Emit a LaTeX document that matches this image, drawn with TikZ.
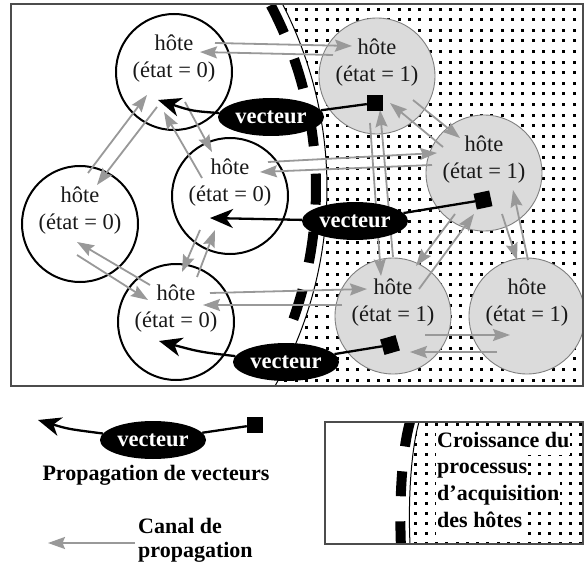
\documentclass[tikz,border=0pt]{standalone}
\usepackage{fontspec}
\setmainfont{Liberation Serif}
\usetikzlibrary{arrows.meta,shapes.geometric}
\begin{document}
\begin{tikzpicture}[x=1pt,y=-1pt,
  host0/.style={circle, draw=black, line width=2pt, fill=white, minimum size=116pt, inner sep=0pt},
  host1/.style={circle, draw=black!50, line width=0.9pt, fill=gray!28, minimum size=116pt, inner sep=0pt},
  htext/.style={font=\fontsize{22.5}{27}\selectfont, align=center, inner sep=0pt, text=black!90},
  vect/.style={ellipse, fill=black, text=white, font=\fontsize{22.5}{26}\selectfont\bfseries, minimum width=106pt, minimum height=38pt, inner sep=0pt},
  sq/.style={rectangle, fill=black, minimum size=16pt, inner sep=0pt},
  vline/.style={line width=2.3pt, black},
  varrow/.style={vline, -{Stealth[length=23pt,width=19pt,inset=7pt]}},
  canal/.style={line width=1.8pt, draw=gray!80, -{Stealth[length=17pt,width=12pt,inset=2.5pt]}},
  legtext/.style={font=\fontsize{22}{26}\selectfont\bfseries, inner sep=0pt},
  boxtext/.style={font=\fontsize{22}{26}\selectfont\bfseries, fill=white, inner xsep=1pt, inner ysep=0pt, text height=19pt, text depth=7.7pt, anchor=base west},
  framestyle/.style={draw=black!70, line width=1.3pt},
  dotsq/.style={fill=black}
]
\useasboundingbox (0,0) rectangle (584,567);
\fill[white] (0,0) rectangle (584,567);

% ---------- main panel ----------
\begin{scope}
\clip (11,4) rectangle (583,386);
% dotted region
\begin{scope}
\clip plot[domain=-30:32,samples=80] ({-76+403*cos(\x)},{188+403*sin(\x)}) -- (600,400) -- (600,-10) -- cycle;
\foreach \i [evaluate=\i as \xx using {round(274+\i*10.3)}] in {0,...,31} {
  \foreach \j [evaluate=\j as \yy using {round(-3+\j*10.6)}] in {0,...,36} {
    \fill[dotsq] (\xx,\yy) rectangle ++(3,3);
  }
}
\end{scope}
% growth front
\draw[line width=1pt] plot[domain=-30:32,samples=80] ({-76+403*cos(\x)},{188+403*sin(\x)});
\draw[line width=10pt, dash pattern=on 31pt off 27.6pt] plot[domain=-27.8:31,samples=90] ({-76+392*cos(\x)},{188+392*sin(\x)});

% hosts
\node[host0] (h1) at (174,72) {};
\node[host0] (h2) at (230,196) {};
\node[host0] (h3) at (80,224) {};
\node[host0] (h4) at (176,322) {};
\node[host1] (g1) at (377,76) {};
\node[host1] (g2) at (484,173) {};
\node[host1] (g3) at (393,316) {};
\node[host1] (g4) at (527,316) {};

\node[htext] (h1t) at (174,58.6) {hôte\\(état = 0)};
\node[htext] (h2t) at (230,182.6) {hôte\\(état = 0)};
\node[htext] (h3t) at (80,210.6) {hôte\\(état = 0)};
\node[htext] (h4t) at (176,308.6) {hôte\\(état = 0)};
\node[htext] (g1t) at (377,62.6) {hôte\\(état = 1)};
\node[htext] (g2t) at (484,159.6) {hôte\\(état = 1)};
\node[htext] (g3t) at (393,302.6) {hôte\\(état = 1)};
\node[htext] (g4t) at (527,302.6) {hôte\\(état = 1)};

% propagation channels
\coordinate (a1) at (215,43);  \coordinate (b1) at (352,46);
\coordinate (a2) at (333,55);  \coordinate (b2) at (200,52);
\coordinate (a3) at (88,173);  \coordinate (b3) at (147,95);
\coordinate (a4) at (157,107); \coordinate (b4) at (97,185);
\coordinate (a5) at (185,102); \coordinate (b5) at (212,152);
\coordinate (a6) at (202,178); \coordinate (b6) at (164,112);
\coordinate (a7) at (200,230); \coordinate (b7) at (182,272);
\coordinate (a8) at (197,277); \coordinate (b8) at (215,230);
\coordinate (a9) at (150,285); \coordinate (b9) at (77,242);
\coordinate (a10) at (77,255); \coordinate (b10) at (148,300);
\coordinate (a11) at (268,162); \coordinate (b11) at (437,153);
\coordinate (a12) at (432,165); \coordinate (b12) at (260,172);
\coordinate (a13) at (413,100); \coordinate (b13) at (460,138);
\coordinate (a14) at (443,147); \coordinate (b14) at (390,103);
\coordinate (a15) at (370,123); \coordinate (b15) at (381,276);
\coordinate (a16) at (393,257); \coordinate (b16) at (380,110);
\coordinate (a17) at (455,214); \coordinate (b17) at (416,266);
\coordinate (a18) at (419,289); \coordinate (b18) at (474,214);
\coordinate (a19) at (502,214); \coordinate (b19) at (517,260);
\coordinate (a20) at (528,260); \coordinate (b20) at (513,190);
\coordinate (a21) at (425,335); \coordinate (b21) at (510,335);
\coordinate (a22) at (497,352); \coordinate (b22) at (410,352);
\coordinate (a23) at (210,293); \coordinate (b23) at (367,289);
\coordinate (a24) at (342,305); \coordinate (b24) at (203,305);
\foreach \k in {1,...,24} { \draw[canal] (a\k) -- (b\k); }

% vectors
\node[sq] (s1) at (375,103) {};
\node[sq, rotate=12] (s2) at (483,200) {};
\node[sq, rotate=16] (s3) at (390,345) {};
\node[vect] (e1) at (271,117) {vecteur};
\node[vect] (e2) at (355,221) {vecteur};
\node[vect] (e3) at (286,362) {vecteur};
\coordinate (t1) at (158,100);
\coordinate (t2) at (210,218);
\coordinate (t3) at (159,341);
\draw[vline] (s1) -- (e1);
\draw[vline] (s2) -- (e2);
\draw[vline] (s3) -- (e3);
\draw[varrow] (e1) .. controls (192,111) .. (t1);
\draw[varrow] (e2) -- (t2);
\draw[varrow] (e3) .. controls (200,352) .. (t3);
\end{scope}
\draw[framestyle] (11,4) rectangle (583,386);

% ---------- legend ----------
\node[vect] (e4) at (153,440) {vecteur};
\node[sq] (s4) at (255,425) {};
\coordinate (t4) at (38,420);
\draw[vline] (s4) -- (e4);
\draw[varrow] (e4) .. controls (68,429) .. (t4);
\node[legtext, anchor=base] (l1) at (156,480) {Propagation de vecteurs};

\coordinate (ca) at (135,543);
\coordinate (cb) at (48,543);
\draw[canal] (ca) -- (cb);
\node[legtext, anchor=base west] (l2) at (138,533) {Canal de};
\node[legtext, anchor=base west] (l3) at (138,557) {propagation};

\begin{scope}
\clip (325,422) rectangle (583,544);
\begin{scope}
\clip (419,422) .. controls (411,450) and (408,500) .. (410,544) -- (590,550) -- (590,415) -- cycle;
\foreach \i [evaluate=\i as \xx using {round(404+\i*10.3)}] in {0,...,17} {
  \foreach \j [evaluate=\j as \yy using {round(423+\j*9.9)}] in {0,...,12} {
    \fill[dotsq] (\xx,\yy) rectangle ++(3,3);
  }
}
\end{scope}
\draw[line width=1pt] (419,422) .. controls (411,450) and (408,500) .. (410,544);
\draw[line width=10pt, dash pattern=on 25pt off 25pt] (410,422) .. controls (402,450) and (399,500) .. (401,548);
\node[boxtext] (k1) at (436,447) {Croissance du};
\node[boxtext] (k2) at (436,473.7) {processus};
\node[boxtext] (k3) at (436,500.4) {d'acquisition};
\node[boxtext] (k4) at (436,527.1) {des hôtes};
\end{scope}
\draw[framestyle] (325,422) rectangle (583,544);
\end{tikzpicture}
\end{document}
